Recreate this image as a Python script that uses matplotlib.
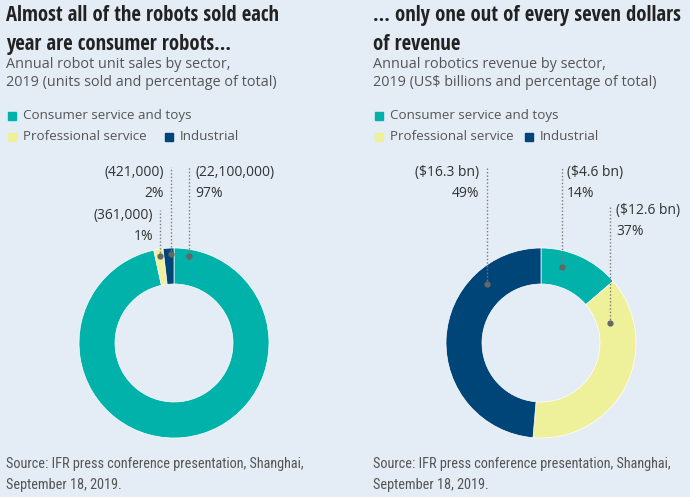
import numpy as np
import matplotlib
matplotlib.use("Agg")
import matplotlib.pyplot as plt
from matplotlib import font_manager as fm

# Data
sectors = ["Consumer service and toys", "Professional service", "Industrial"]
units = [22100000, 361000, 421000]
unit_labels = ["(22,100,000)\n97%", "(361,000)\n1%", "(421,000)\n2%"]
revenue = [4.6, 12.6, 16.3]
revenue_labels = ["($4.6 bn)\n14%", "($12.6 bn)\n37%", "($16.3 bn)\n49%"]

COLORS = ["#00b2a9", "#eef09a", "#004577"]
BG = "#e4ecf5"

names = {f.name for f in fm.fontManager.ttflist}


def pick(cands):
    for c in cands:
        if c in names:
            return c
    return "DejaVu Sans"


TITLE_FONT = pick(["Open Sans Condensed", "Roboto Condensed", "Liberation Sans Narrow", "Open Sans"])
BODY_FONT = pick(["Open Sans", "Noto Sans"])
SRC_FONT = pick(["Open Sans Condensed Light", "Roboto Condensed", "Open Sans"])

W, H = 690, 497
fig = plt.figure(figsize=(W / 100, H / 100), dpi=100)
fig.patch.set_facecolor(BG)
ax = fig.add_axes([0, 0, 1, 1])
ax.set_facecolor(BG)

R_OUT, RING = 95, 36


def y(py):
    return H - py


def donut(cx, cy, vals, labels, anchors):
    ax.pie(vals, colors=COLORS, startangle=90, counterclock=False,
           radius=R_OUT, center=(cx, y(cy)), frame=True,
           wedgeprops=dict(width=RING, edgecolor="white", linewidth=0.5))
    for lab, (ang, r, top, tx, ha) in zip(labels, anchors):
        px = cx + r * np.cos(np.radians(ang))
        py = y(cy) + r * np.sin(np.radians(ang))
        ax.plot([px, px], [py, y(top)], color="#7a7a7a", lw=1,
                ls=(0, (1, 1.5)), zorder=5)
        ax.plot(px, py, "o", ms=3.5, color="#666666", zorder=6)
        ax.text(tx, y(top - 2), lab, ha=ha, va="top", fontsize=10,
                family=BODY_FONT, color="#333333", linespacing=1.55,
                multialignment=ha)


def header(x0, title, sub):
    ax.text(x0, y(5), title, ha="left", va="top", fontsize=14.9,
            fontweight="bold", family=TITLE_FONT, color="#222222",
            linespacing=1.5)
    ax.text(x0, y(57), sub, ha="left", va="top", fontsize=10.4,
            family=BODY_FONT, color="#555555", linespacing=1.3)


def legend(x0, x_ind):
    rows = [(x0, 116), (x0, 137), (x_ind, 137)]
    for (lx, ly), name, c in zip(rows, sectors, COLORS):
        ax.add_patch(plt.Rectangle((lx, y(ly) - 4), 8, 8, color=c))
        ax.text(lx + 15, y(ly), name, ha="left", va="center", fontsize=9.6,
                family=BODY_FONT, color="#555555")


# Left panel
header(6, "Almost all of the robots sold each\nyear are consumer robots...",
       "Annual robot unit sales by sector,\n2019 (units sold and percentage of total)")
legend(8, 165)
donut(174, 343, units, unit_labels,
      [(80, 88, 167, 195, "left"), (99, 88, 210, 153, "right"),
       (92, 89, 167, 164, "right")])

# Right panel
header(373, "... only one out of every seven dollars\nof revenue",
       "Annual robotics revenue by sector,\n2019 (US$ billions and percentage of total)")
legend(375, 525)
donut(541, 343, revenue, revenue_labels,
      [(74.5, 79, 167, 567, "left"), (16, 72, 205, 616, "left"),
       (132, 80, 167, 479, "right")])

src = "Source: IFR press conference presentation, Shanghai,\nSeptember 18, 2019."
for sx in (6, 373):
    ax.text(sx, y(457), src, ha="left", va="top", fontsize=10.3,
            family=SRC_FONT, color="#555555", linespacing=1.65)

ax.set_xlim(0, W)
ax.set_ylim(0, H)
ax.set_aspect("equal")
ax.axis("off")

fig.savefig("out.png", dpi=100, facecolor=BG)
